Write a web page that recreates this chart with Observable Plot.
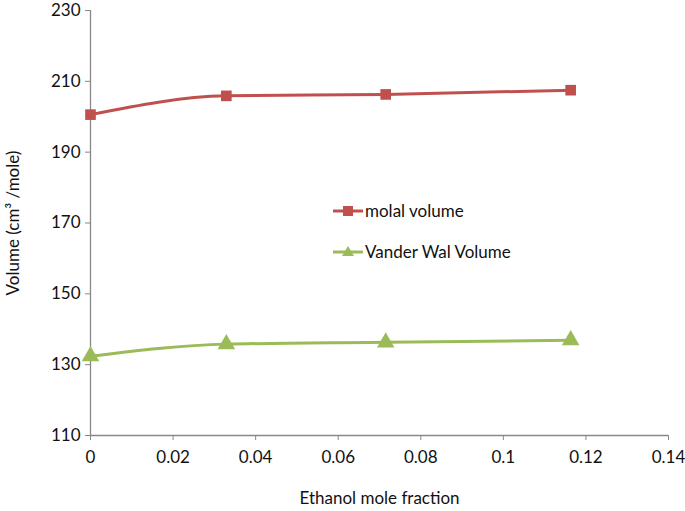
<!DOCTYPE html>
<html>
<head>
<meta charset="utf-8">
<script src="https://cdn.jsdelivr.net/npm/d3@7"></script>
<script src="https://cdn.jsdelivr.net/npm/@observablehq/plot@0.6"></script>
<style>
  body { margin: 0; background: #fff; }
  #wrap { position: relative; width: 685px; height: 511px; font-family: Lato, "Open Sans", sans-serif; }
  .leg { position: absolute; display: flex; align-items: center; font-size: 17px; color: #111; }
  .leg svg { margin-right: 2px; }
</style>
</head>
<body>
<div id="wrap"></div>
<script>
const ethanolFraction = [0, 0.0329, 0.0715, 0.1163];
const molalVolume = [200.6, 205.9, 206.3, 207.5];
const vanderWaalVolume = [132.4, 135.8, 136.3, 136.9];
const seriesNames = ["molal volume", "Vander Wal Volume"];
const seriesColors = ["#C0504D", "#9BBB59"];
const xTicks = [0, 0.02, 0.04, 0.06, 0.08, 0.1, 0.12, 0.14];
const yTicks = [110, 130, 150, 170, 190, 210, 230];

const molal = ethanolFraction.map((x, i) => ({x, y: molalVolume[i]}));
const vdw = ethanolFraction.map((x, i) => ({x, y: vanderWaalVolume[i]}));

const axisColor = "#888888";
const plot = Plot.plot({
  width: 685,
  height: 511,
  marginLeft: 90,
  marginRight: 17,
  marginTop: 10,
  marginBottom: 76,
  style: { fontFamily: 'Lato, "Open Sans", sans-serif', fontSize: "17px", color: "#111", background: "#fff", overflow: "visible" },
  x: { domain: [0, 0.14], label: null },
  y: { domain: [110, 230], label: null },
  marks: [
    Plot.ruleX([0], { stroke: axisColor, strokeWidth: 1.3 }),
    Plot.ruleY([110], { stroke: axisColor, strokeWidth: 1.3 }),
    Plot.axisX({ ticks: xTicks, tickSize: 5, tickPadding: 10, stroke: axisColor, fontSize: 17,
      tickFormat: d => String(+d.toFixed(2)), fill: "#111",
      label: "Ethanol mole fraction", labelAnchor: "center", labelArrow: "none", labelOffset: 68 }),
    Plot.axisY({ ticks: yTicks, tickSize: 5, tickPadding: 5, stroke: axisColor, fill: "#111", fontSize: 17,
      label: "Volume (cm³ /mole)", labelAnchor: "center", labelArrow: "none", labelOffset: 84 }),
    Plot.line(molal, { x: "x", y: "y", stroke: seriesColors[0], strokeWidth: 3, curve: "monotone-x" }),
    Plot.line(vdw, { x: "x", y: "y", stroke: seriesColors[1], strokeWidth: 3, curve: "monotone-x" }),
    Plot.dot(molal, { x: "x", y: "y", symbol: "square", r: 6, fill: seriesColors[0], stroke: "none" }),
    Plot.dot(vdw, { x: "x", y: "y", symbol: "triangle", r: 6.5, fill: seriesColors[1], stroke: "none" })
  ]
});
const wrap = document.getElementById("wrap");
wrap.appendChild(plot);
plot.querySelectorAll("text").forEach(t => { t.style.fontSize = "17px"; });

const legendTops = [200, 241];
seriesNames.forEach((name, i) => {
  const d = document.createElement("div");
  d.className = "leg";
  d.style.left = "333px";
  d.style.top = legendTops[i] + "px";
  const sym = i === 0
    ? `<rect x="10" y="5" width="10" height="10" fill="${seriesColors[i]}"/>`
    : `<path d="M15,4 L21,14 L9,14 Z" fill="${seriesColors[i]}"/>`;
  d.innerHTML = `<svg width="30" height="20"><line x1="0" y1="10" x2="30" y2="10" stroke="${seriesColors[i]}" stroke-width="3"/>${sym}</svg><span>${name}</span>`;
  wrap.appendChild(d);
});
</script>
</body>
</html>
